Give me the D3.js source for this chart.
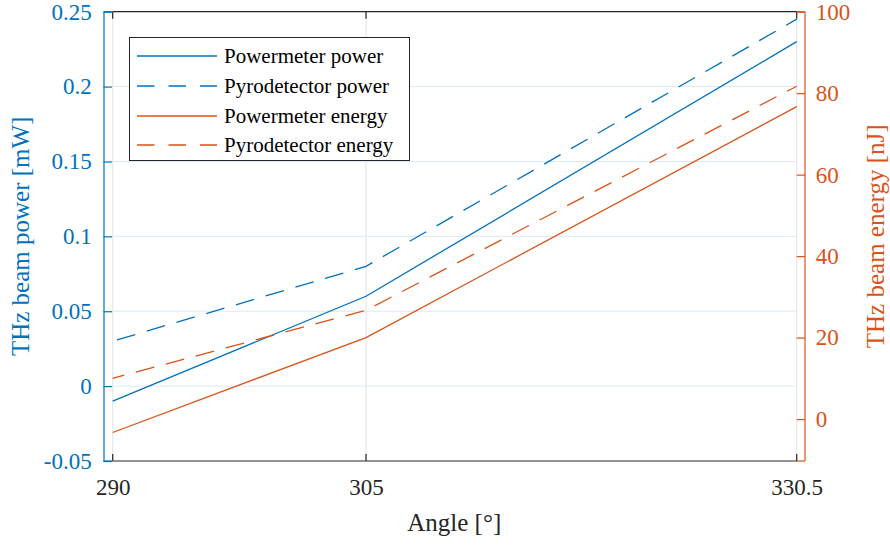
<!DOCTYPE html>
<html>
<head>
<meta charset="utf-8">
<script src="https://cdn.jsdelivr.net/npm/d3@7/dist/d3.min.js"></script>
<style>
  html, body { margin: 0; padding: 0; background: #fff; }
  svg text { font-family: "Liberation Serif", "Times New Roman", Times, "DejaVu Serif", serif !important; }
</style>
</head>
<body>
<svg id="chart" width="890" height="545"></svg>
<script>
// Rotation angle of the measurement (degrees)
const angles = [290, 305, 330.5];

// Left axis: THz beam power [mW]
const powermeterPower = [-0.01, 0.06, 0.23];
const pyrodetectorPower = [0.03, 0.08, 0.245];

// Right axis: THz beam energy [nJ]
const powermeterEnergy = [-3.3, 20, 76.7];
const pyrodetectorEnergy = [10, 26.7, 81.7];

// Tick values
const xTicks = [290, 305, 330.5];
const yLeftTicks = [-0.05, 0, 0.05, 0.1, 0.15, 0.2, 0.25];
const yRightTicks = [0, 20, 40, 60, 80, 100];

const BLUE = "#0072BD";
const ORANGE = "#D95319";
const DARK = "#262626";

const svg = d3.select("#chart");

const plot = { left: 112.7, right: 796.7, top: 11.7, bottom: 461 };
const leftSpineX = 103.5;
const rightSpineX = 805;

const x = d3.scaleLinear().domain([290, 330.5]).range([plot.left, plot.right]);
const yL = d3.scaleLinear().domain([-0.05, 0.25]).range([plot.bottom, plot.top]);
const yR = d3.scaleLinear().domain([-10.3, 100]).range([plot.bottom, plot.top]);

// Grid: vertical at x ticks, horizontal at left ticks
const grid = svg.append("g");
grid.selectAll("line.vg").data(xTicks).join("line")
  .attr("x1", d => x(d)).attr("x2", d => x(d))
  .attr("y1", plot.top).attr("y2", plot.bottom)
  .attr("stroke", "#e3e3e3").attr("stroke-width", 1);
grid.selectAll("line.hg").data(yLeftTicks.slice(1, -1)).join("line")
  .attr("x1", plot.left).attr("x2", plot.right)
  .attr("y1", d => yL(d)).attr("y2", d => yL(d))
  .attr("stroke", "#dde9f4").attr("stroke-width", 1);

// Box top and bottom edges with mirrored x ticks
const box = svg.append("g").attr("stroke", DARK).attr("stroke-width", 1.2).attr("fill", "none");
box.append("line").attr("x1", plot.left).attr("x2", plot.right + 0.5)
  .attr("y1", plot.bottom).attr("y2", plot.bottom);
box.append("line").attr("x1", plot.left).attr("x2", plot.right + 0.5)
  .attr("y1", plot.top).attr("y2", plot.top);
box.selectAll("line.tb").data(xTicks).join("line")
  .attr("x1", d => x(d)).attr("x2", d => x(d))
  .attr("y1", plot.bottom).attr("y2", plot.bottom - 7);
box.selectAll("line.tt").data(xTicks).join("line")
  .attr("x1", d => x(d)).attr("x2", d => x(d))
  .attr("y1", plot.top).attr("y2", plot.top + 7);

// X axis tick labels
const xAxis = d3.axisBottom(x).tickValues(xTicks).tickSize(0).tickPadding(0)
  .tickFormat(d => String(d));
const gx = svg.append("g").attr("transform", `translate(0,${plot.bottom + 26})`).call(xAxis);
gx.attr("font-family", null);
gx.select(".domain").remove();
gx.selectAll("text").attr("font-size", 23).attr("fill", DARK)
  .attr("dy", "0.71em").attr("y", -8);

// Left y axis (ticks point inward)
const leftAxis = d3.axisLeft(yL).tickValues(yLeftTicks).tickSizeInner(-8.5).tickSizeOuter(0)
  .tickPadding(11.8).tickFormat(d => String(+d.toFixed(2)));
const gl = svg.append("g").attr("transform", `translate(${leftSpineX},0)`).call(leftAxis);
gl.attr("font-family", null);
gl.select(".domain").attr("stroke", BLUE).attr("stroke-width", 1.2);
gl.selectAll(".tick line").attr("stroke", BLUE).attr("stroke-width", 1.2);
gl.selectAll("text").attr("font-size", 23).attr("fill", BLUE);

// Right y axis (ticks point inward)
const rightAxis = d3.axisRight(yR).tickValues(yRightTicks).tickSizeInner(-8.3).tickSizeOuter(0)
  .tickPadding(10.7);
const gr = svg.append("g").attr("transform", `translate(${rightSpineX},0)`).call(rightAxis);
gr.attr("font-family", null);
gr.select(".domain").attr("stroke", ORANGE).attr("stroke-width", 1.2)
  .attr("d", `M0,${plot.bottom}V${plot.top}`);
gr.selectAll(".tick line").attr("stroke", ORANGE).attr("stroke-width", 1.2);
gr.selectAll("text").attr("font-size", 23).attr("fill", ORANGE);

// Corner stubs joining the coloured spines to the box
[[leftSpineX, plot.left, plot.top, BLUE], [leftSpineX, plot.left, plot.bottom, BLUE],
 [plot.right, rightSpineX, plot.top, ORANGE], [plot.right, rightSpineX, plot.bottom, ORANGE]]
  .forEach(([x1, x2, yy, c]) => {
    svg.append("line").attr("x1", x1).attr("x2", x2).attr("y1", yy).attr("y2", yy)
      .attr("stroke", c).attr("stroke-width", 1.2);
  });

// Data lines
const series = [
  { name: "Powermeter power", values: powermeterPower, y: yL, color: BLUE, dash: null, offset: 0 },
  { name: "Pyrodetector power", values: pyrodetectorPower, y: yL, color: BLUE, dash: "19,12", offset: 26.5 },
  { name: "Powermeter energy", values: powermeterEnergy, y: yR, color: ORANGE, dash: null, offset: 0 },
  { name: "Pyrodetector energy", values: pyrodetectorEnergy, y: yR, color: ORANGE, dash: "19,12", offset: 7 }
];

const linesG = svg.append("g");
series.forEach(s => {
  const line = d3.line().x((d, i) => x(angles[i])).y(d => s.y(d));
  linesG.append("path")
    .datum(s.values)
    .attr("d", line)
    .attr("fill", "none")
    .attr("stroke", s.color)
    .attr("stroke-width", 1.3)
    .attr("stroke-dasharray", s.dash)
    .attr("stroke-dashoffset", s.offset);
});

// Legend
const legend = svg.append("g");
legend.append("rect")
  .attr("x", 129.5).attr("y", 37.5).attr("width", 280).attr("height", 123)
  .attr("fill", "#fff").attr("stroke", DARK).attr("stroke-width", 1);
const rowY = [56, 86, 116, 145];
series.forEach((s, i) => {
  legend.append("line")
    .attr("x1", 137).attr("x2", 217).attr("y1", rowY[i]).attr("y2", rowY[i])
    .attr("stroke", s.color).attr("stroke-width", 1.3)
    .attr("stroke-dasharray", s.dash ? "17.5,14" : null);
  legend.append("text")
    .attr("x", 224).attr("y", rowY[i]).attr("dy", "0.33em")
    .attr("font-size", 21).attr("fill", "#000")
    .text(s.name);
});

// Axis titles
svg.append("text")
  .attr("x", (leftSpineX + rightSpineX) / 2).attr("y", 531)
  .attr("text-anchor", "middle").attr("font-size", 25).attr("fill", DARK)
  .text("Angle [°]");
svg.append("text")
  .attr("transform", `translate(29,${(plot.top + plot.bottom) / 2}) rotate(-90)`)
  .attr("text-anchor", "middle").attr("font-size", 25).attr("fill", BLUE)
  .text("THz beam power [mW]");
svg.append("text")
  .attr("transform", `translate(884,${(plot.top + plot.bottom) / 2}) rotate(-90)`)
  .attr("text-anchor", "middle").attr("font-size", 25).attr("fill", ORANGE)
  .text("THz beam energy [nJ]");
</script>
</body>
</html>
